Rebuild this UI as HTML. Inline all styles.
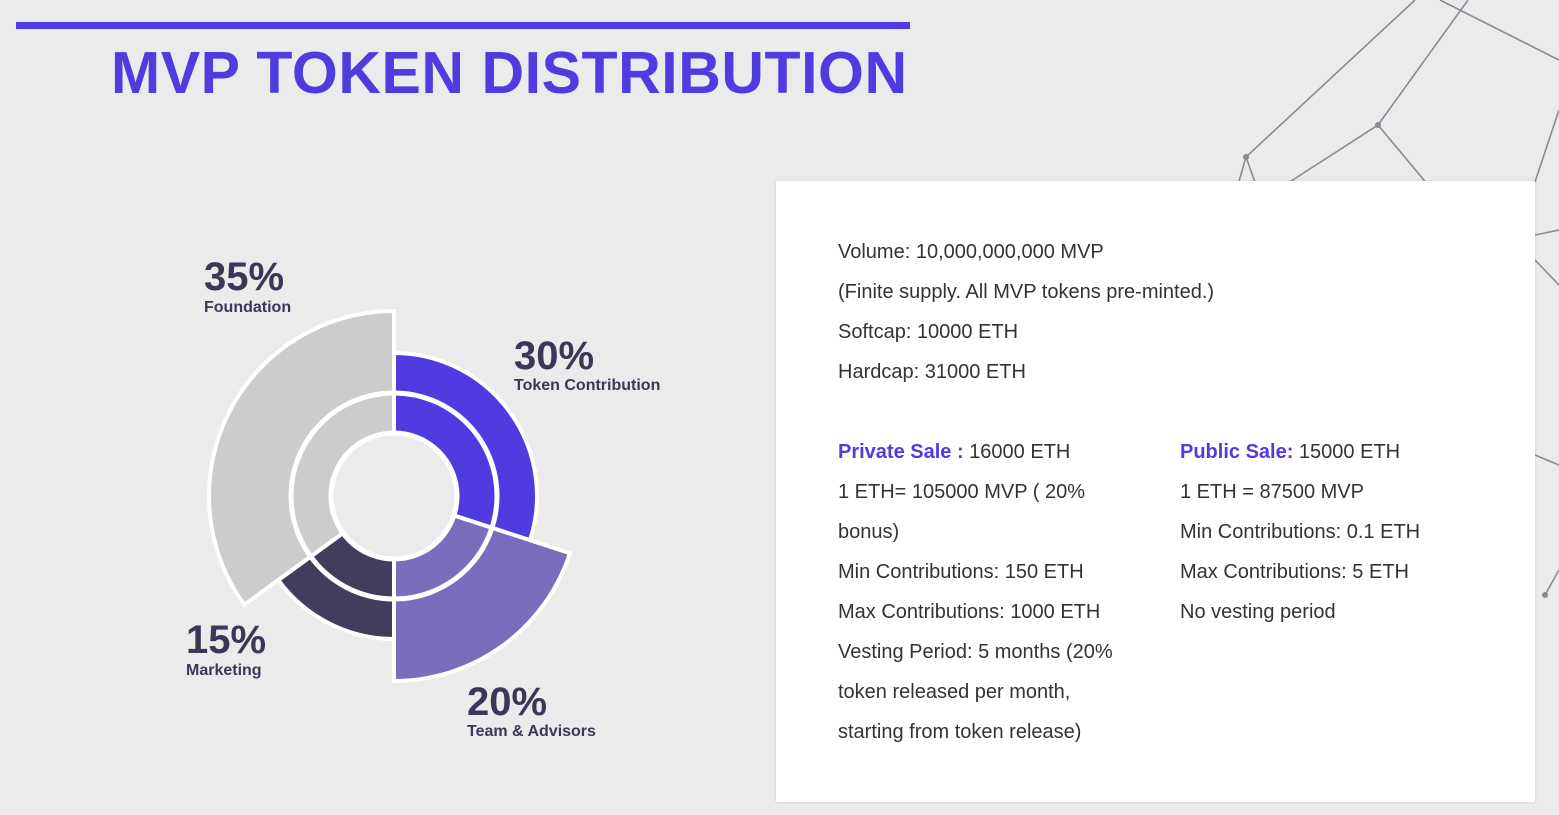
<!DOCTYPE html>
<html><head><meta charset="utf-8"><style>
body{margin:0;width:1559px;height:815px;background:#ebebeb;position:relative;overflow:hidden;font-family:"Liberation Sans",Arial,sans-serif}
.bar{position:absolute;left:16px;top:22px;width:894px;height:7px;background:#4f3be0}
h1{position:absolute;left:111px;top:40px;margin:0;font-size:59px;font-weight:bold;color:#4f3be0;letter-spacing:0.55px;line-height:66px}
.card{position:absolute;left:776px;top:181px;width:759px;height:621px;background:#fff;box-shadow:0 0 3px rgba(0,0,0,.12)}
.t{position:absolute;font-size:20px;color:#333;line-height:40px;white-space:nowrap}
.b{color:#4f3be0;font-weight:bold}
</style></head><body>
<svg width="1559" height="815" style="position:absolute;left:0;top:0">
<g stroke="#8a8a96" stroke-width="1.6" fill="none">
<line x1="1246" y1="157" x2="1415" y2="0"/>
<line x1="1378" y1="125" x2="1468" y2="0"/>
<line x1="1378" y1="125" x2="1285" y2="185"/>
<line x1="1378" y1="125" x2="1428" y2="185"/>
<line x1="1246" y1="157" x2="1238" y2="185"/>
<line x1="1246" y1="157" x2="1256" y2="185"/>
<line x1="1440" y1="0" x2="1559" y2="60"/>
<line x1="1535" y1="182" x2="1559" y2="110"/>
<line x1="1535" y1="235" x2="1559" y2="230"/>
<line x1="1535" y1="260" x2="1559" y2="285"/>
<line x1="1535" y1="455" x2="1559" y2="465"/>
<line x1="1545" y1="595" x2="1559" y2="570"/>
</g>
<circle cx="1246" cy="157" r="3" fill="#8a8a96"/><circle cx="1378" cy="125" r="3" fill="#8a8a96"/><circle cx="1545" cy="595" r="3" fill="#8a8a96"/>
</svg>
<div class="bar"></div>
<h1>MVP TOKEN DISTRIBUTION</h1>
<svg width="760" height="815" style="position:absolute;left:0;top:0">
<g stroke="#fff" stroke-width="4" stroke-linejoin="miter">
<path d="M394,496 L394,353 A143,143 0 0 1 530.0,540.2 Z" fill="#4f3be0"/>
<path d="M394,496 L569.9,553.2 A185,185 0 0 1 394,681 Z" fill="#7b6cbd"/>
<path d="M394,496 L394,639 A143,143 0 0 1 278.3,580.1 Z" fill="#433c5c"/>
<path d="M394,496 L244.3,604.7 A185,185 0 0 1 394,311 Z" fill="#cccccc"/>
</g>
<circle cx="394" cy="496" r="103" fill="none" stroke="#fff" stroke-width="5"/>
<circle cx="394" cy="496" r="63" fill="#ebebeb" stroke="#fff" stroke-width="5"/>
<g font-family="Liberation Sans, Arial, sans-serif" font-weight="bold" fill="#3d3757">
<text x="204" y="290" font-size="40">35%</text><text x="204" y="312" font-size="16">Foundation</text>
<text x="514" y="369" font-size="40">30%</text><text x="514" y="390" font-size="16">Token Contribution</text>
<text x="186" y="653" font-size="40">15%</text><text x="186" y="675" font-size="16">Marketing</text>
<text x="467" y="715" font-size="40">20%</text><text x="467" y="736" font-size="16">Team &amp; Advisors</text>
</g>
</svg>
<div class="card"></div>
<div class="t" style="left:838px;top:232px">Volume: 10,000,000,000 MVP<br>(Finite supply. All MVP tokens pre-minted.)<br>Softcap: 10000 ETH<br>Hardcap: 31000 ETH</div>
<div class="t" style="left:838px;top:432px"><span class="b">Private Sale :</span> 16000 ETH<br>1 ETH= 105000 MVP ( 20%<br>bonus)<br>Min Contributions: 150 ETH<br>Max Contributions: 1000 ETH<br>Vesting Period: 5 months (20%<br>token released per month,<br>starting from token release)</div>
<div class="t" style="left:1180px;top:432px"><span class="b">Public Sale:</span> 15000 ETH<br>1 ETH = 87500 MVP<br>Min Contributions: 0.1 ETH<br>Max Contributions: 5 ETH<br>No vesting period</div>
</body></html>
